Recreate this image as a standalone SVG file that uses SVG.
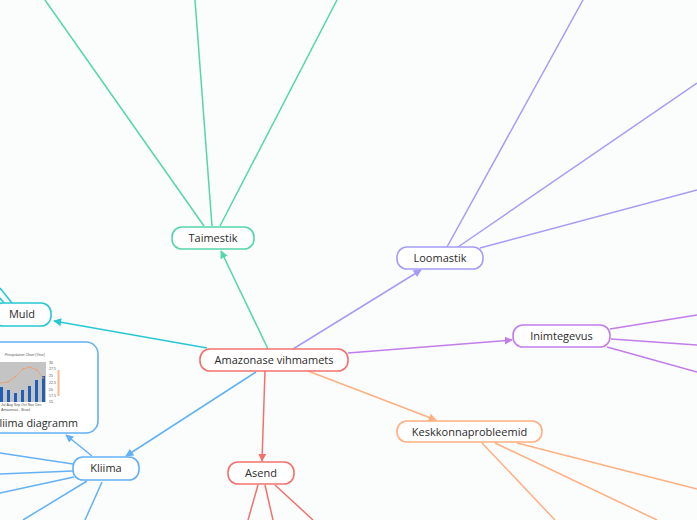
<svg xmlns="http://www.w3.org/2000/svg" width="697" height="520" viewBox="0 0 697 520">
<style>
  .bg{fill:#fbfcfc}
  .node{fill:#ffffff;stroke-width:1.6}
  .lbl{font-family:"Open Sans","Noto Sans","Liberation Sans",sans-serif;font-size:11px;fill:#2b2b2b;text-anchor:middle}
  .big{font-size:10.8px;text-anchor:end}
  .ln{fill:none;stroke-width:1.5}
  .red{stroke:#f3716d}
  .grn{stroke:#55d6a9}
  .pur{stroke:#a49cf7}
  .mag{stroke:#c27de9}
  .ora{stroke:#ffaf80}
  .blu{stroke:#63b1f5}
  .cya{stroke:#27c8d3}
  .tiny{font-family:"Liberation Sans",sans-serif;font-size:3.6px;fill:#555}
</style>
<defs>
  <marker id="aGrn" viewBox="0 0 10 10" refX="9" refY="5" markerWidth="8" markerHeight="8" markerUnits="userSpaceOnUse" orient="auto"><path d="M0,0 L10,5 L0,10 z" fill="#55d6a9"/></marker>
  <marker id="aPur" viewBox="0 0 10 10" refX="9" refY="5" markerWidth="8" markerHeight="8" markerUnits="userSpaceOnUse" orient="auto"><path d="M0,0 L10,5 L0,10 z" fill="#a49cf7"/></marker>
  <marker id="aMag" viewBox="0 0 10 10" refX="9" refY="5" markerWidth="8" markerHeight="8" markerUnits="userSpaceOnUse" orient="auto"><path d="M0,0 L10,5 L0,10 z" fill="#c27de9"/></marker>
  <marker id="aOra" viewBox="0 0 10 10" refX="9" refY="5" markerWidth="8" markerHeight="8" markerUnits="userSpaceOnUse" orient="auto"><path d="M0,0 L10,5 L0,10 z" fill="#ffaf80"/></marker>
  <marker id="aRed" viewBox="0 0 10 10" refX="9" refY="5" markerWidth="8" markerHeight="8" markerUnits="userSpaceOnUse" orient="auto"><path d="M0,0 L10,5 L0,10 z" fill="#f3716d"/></marker>
  <marker id="aBlu" viewBox="0 0 10 10" refX="9" refY="5" markerWidth="8" markerHeight="8" markerUnits="userSpaceOnUse" orient="auto"><path d="M0,0 L10,5 L0,10 z" fill="#63b1f5"/></marker>
  <marker id="aCya" viewBox="0 0 10 10" refX="9" refY="5" markerWidth="8" markerHeight="8" markerUnits="userSpaceOnUse" orient="auto"><path d="M0,0 L10,5 L0,10 z" fill="#27c8d3"/></marker>
  <clipPath id="clipKD"><rect x="-40" y="342" width="138" height="91" rx="12"/></clipPath>
</defs>
<rect class="bg" x="0" y="0" width="697" height="520"/>

<g id="connectors">
  <line class="ln grn" x1="268" y1="349" x2="221" y2="251" marker-end="url(#aGrn)"/>
  <line class="ln pur" x1="293" y1="349" x2="421" y2="270" marker-end="url(#aPur)"/>
  <line class="ln mag" x1="348" y1="353" x2="512" y2="340" marker-end="url(#aMag)"/>
  <line class="ln ora" x1="308" y1="371" x2="436" y2="420" marker-end="url(#aOra)"/>
  <line class="ln red" x1="265" y1="371" x2="262" y2="461" marker-end="url(#aRed)"/>
  <line class="ln blu" x1="256" y1="372" x2="126" y2="456" marker-end="url(#aBlu)"/>
  <line class="ln cya" x1="207" y1="348" x2="54" y2="321" marker-end="url(#aCya)"/>
  <line class="ln grn" x1="204" y1="226" x2="45" y2="0"/>
  <line class="ln grn" x1="212" y1="226" x2="195" y2="0"/>
  <line class="ln grn" x1="220" y1="226" x2="337" y2="0"/>
  <line class="ln pur" x1="447" y1="247" x2="583" y2="0"/>
  <line class="ln pur" x1="458" y1="247" x2="697" y2="83"/>
  <line class="ln pur" x1="480" y1="248" x2="697" y2="190"/>
  <line class="ln mag" x1="610" y1="329" x2="697" y2="315"/>
  <line class="ln mag" x1="611" y1="339" x2="697" y2="345"/>
  <line class="ln mag" x1="607" y1="347" x2="697" y2="372"/>
  <line class="ln ora" x1="482" y1="443" x2="555" y2="520"/>
  <line class="ln ora" x1="495" y1="443" x2="657" y2="520"/>
  <line class="ln ora" x1="517" y1="443" x2="697" y2="489"/>
  <line class="ln red" x1="258" y1="485" x2="248" y2="520"/>
  <line class="ln red" x1="265" y1="485" x2="273" y2="520"/>
  <line class="ln red" x1="275" y1="485" x2="313" y2="520"/>
  <line class="ln blu" x1="92" y1="456" x2="66" y2="435" marker-end="url(#aBlu)"/>
  <line class="ln blu" x1="73" y1="464" x2="0" y2="453"/>
  <line class="ln blu" x1="73" y1="471" x2="0" y2="474"/>
  <line class="ln blu" x1="74" y1="477" x2="0" y2="493"/>
  <line class="ln blu" x1="87" y1="481" x2="23" y2="520"/>
  <line class="ln blu" x1="102" y1="482" x2="85" y2="520"/>
  <line class="ln cya" x1="12" y1="303" x2="0" y2="288"/>
  <line class="ln cya" x1="4" y1="303" x2="0" y2="298"/>
</g>

<g id="central">
  <rect class="node red" x="200" y="349" width="148" height="22" rx="10"/>
  <text class="lbl" x="274" y="364">Amazonase vihmamets</text>
</g>
<g id="taimestik">
  <rect class="node grn" x="172" y="227" width="82" height="22" rx="10"/>
  <text class="lbl" x="213" y="242">Taimestik</text>
</g>
<g id="loomastik">
  <rect class="node pur" x="397" y="247" width="86" height="22" rx="10"/>
  <text class="lbl" x="440" y="262">Loomastik</text>
</g>
<g id="inimtegevus">
  <rect class="node mag" x="513" y="325" width="97" height="22" rx="10"/>
  <text class="lbl" x="561.5" y="340">Inimtegevus</text>
</g>
<g id="keskkonnaprobleemid">
  <rect class="node ora" x="397" y="421" width="145" height="21" rx="10"/>
  <text class="lbl" x="469.5" y="435.5">Keskkonnaprobleemid</text>
</g>
<g id="asend">
  <rect class="node red" x="228" y="462" width="66" height="22" rx="10"/>
  <text class="lbl" x="261" y="477">Asend</text>
</g>
<g id="kliima">
  <rect class="node blu" x="73" y="457" width="66" height="23" rx="10"/>
  <text class="lbl" x="106" y="472">Kliima</text>
</g>
<g id="muld">
  <rect class="node cya" x="-7" y="303" width="58" height="23" rx="10"/>
  <text class="lbl" x="22" y="318">Muld</text>
</g>
<g id="kliima-diagramm">
  <rect class="node blu" x="-40" y="342" width="138" height="91" rx="12"/>
  <g clip-path="url(#clipKD)">
    <rect x="-40" y="349" width="104" height="64" fill="#ffffff"/>
    <text class="tiny" x="45" y="356" text-anchor="end" font-style="italic">Precipitation Chart (Year)</text>
    <rect x="-40" y="362" width="86" height="40" fill="#c4c4c4"/>
    <g fill="#1f5fb8">
      <rect x="0" y="387" width="3" height="15"/>
      <rect x="7" y="390" width="3" height="12"/>
      <rect x="14" y="393" width="3" height="9"/>
      <rect x="21" y="390" width="3" height="12"/>
      <rect x="28" y="386" width="3" height="16"/>
      <rect x="35" y="380" width="3" height="22"/>
      <rect x="42" y="376" width="3" height="26"/>
    </g>
    <polyline points="-6,383 1,383 8,382 15,377 23,369 30,367 37,370 43,378" fill="none" stroke="#f59a5a" stroke-width="0.7"/>
    <g fill="#f59a5a">
      <circle cx="8" cy="382" r="0.8"/><circle cx="15" cy="377" r="0.8"/><circle cx="23" cy="369" r="0.8"/><circle cx="30" cy="367" r="0.8"/><circle cx="37" cy="370" r="0.8"/><circle cx="43" cy="378" r="0.8"/>
    </g>
    <g class="tiny" font-size="2.8px">
      <text x="49" y="364">30</text><text x="49" y="370">27.5</text><text x="49" y="377">25</text><text x="49" y="384">22.5</text><text x="49" y="391">20</text><text x="49" y="397">17.5</text><text x="49" y="403">15</text>
    </g>
    <rect x="57.5" y="370" width="2" height="26" fill="#f8b78c"/>
    <text class="tiny" x="1" y="406" font-size="2.8px">Jul Aug Sep Oct Nov Dec</text>
    <text class="tiny" x="1" y="411" font-size="3px">Amazonas - Brazil</text>
  </g>
  <text class="lbl big" x="78" y="427">Kliima diagramm</text>
</g>
</svg>
